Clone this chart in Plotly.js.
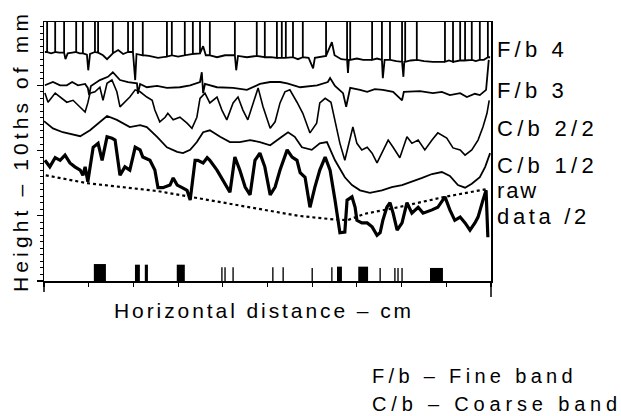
<!DOCTYPE html>
<html>
<head>
<meta charset="utf-8">
<script src="https://cdn.plot.ly/plotly-3.0.1.min.js"></script>
<style>html,body{margin:0;padding:0;background:#fff;}#chart{width:621px;height:416px;}</style>
</head>
<body>
<div id="chart"></div>
<script>
// Horizontal distance (cm, 0-100 across the record) and height (10ths of mm)
const fb4X = [0.2,0.7,0.7,0.7,1.6,2.5,2.5,2.5,3.4,4.5,4.5,4.5,4.8,5.3,6.3,7.2,7.2,7.2,8.0,8.7,8.7,8.7,9.6,9.9,10.3,11.4,11.4,11.4,12.1,12.1,12.1,13.2,14.1,15.4,15.4,15.4,16.6,17.7,18.8,18.8,18.8,19.9,19.9,19.9,20.4,20.7,22.1,22.1,22.1,23.5,25.5,27.5,27.5,27.5,28.6,28.6,28.6,30.0,31.5,31.5,31.5,33.3,33.3,33.3,34.9,34.9,34.9,35.6,36.2,37.1,37.1,37.1,38.7,40.5,42.3,42.7,42.7,42.7,43.0,43.4,45.4,47.6,47.6,47.6,49.4,49.4,49.4,50.8,52.1,52.1,52.1,53.2,53.2,53.2,54.1,54.1,54.1,55.7,55.7,55.7,56.8,57.9,57.9,57.9,59.2,60.2,60.6,62.0,63.1,63.1,63.1,64.4,65.0,66.5,67.8,67.8,67.8,68.0,68.2,68.5,68.5,68.5,70.0,71.4,73.4,73.4,73.4,74.5,75.6,75.6,75.6,75.8,76.2,77.4,77.4,77.4,78.8,80.1,80.1,80.1,80.4,80.6,80.8,80.8,80.8,82.0,83.4,83.4,83.4,85.0,87.0,89.7,89.7,89.7,90.6,91.5,91.5,91.5,93.1,93.1,93.1,94.2,94.2,94.2,95.7,95.7,95.7,96.6,97.5,97.5,97.5,98.4,99.3,99.3,99.3,99.8];
const fb4Y = [35.1,35.1,39.7,35.1,34.9,35.1,39.7,35.1,35.0,35.0,39.7,35.0,34.0,34.9,35.0,35.1,39.7,35.1,34.9,34.9,39.7,34.9,34.7,32.3,34.8,35.1,39.7,35.1,35.0,39.7,35.0,34.6,34.0,34.9,39.7,34.9,35.4,34.8,35.1,39.7,35.1,35.1,39.7,35.1,30.8,34.8,34.6,39.7,34.6,34.5,34.2,34.4,39.7,34.4,34.6,39.7,34.6,34.4,34.6,39.7,34.6,34.8,39.7,34.8,34.9,39.7,34.9,36.0,34.6,34.6,39.7,34.6,34.3,34.6,34.6,34.6,39.7,34.6,32.3,34.5,34.3,34.5,39.7,34.5,34.3,39.7,34.3,34.3,34.2,39.7,34.2,34.2,39.7,34.2,34.2,39.7,34.2,34.3,39.7,34.3,34.0,34.3,39.7,34.3,34.2,32.6,34.2,34.4,34.5,39.7,34.5,36.6,34.6,34.0,33.9,39.7,33.9,31.9,33.9,33.9,39.7,33.9,34.1,33.9,33.9,39.7,33.9,34.1,33.9,39.7,33.9,31.1,33.9,33.9,39.7,33.9,33.7,33.6,39.7,33.6,31.3,33.6,33.6,39.7,33.6,33.8,33.9,39.7,33.9,33.7,33.6,33.6,39.7,33.6,33.8,33.6,39.7,33.6,33.8,39.7,33.8,33.8,39.7,33.8,33.9,39.7,33.9,33.7,33.9,39.7,33.9,33.9,34.3,39.7,34.3,34.3];

const fb3X = [0.2,1.3,2.0,3.6,5.1,6.3,7.6,9.2,9.8,10.1,10.5,12.5,14.3,15.4,17.0,18.8,20.8,21.0,21.5,23.0,25.3,27.5,30.4,32.7,34.9,35.3,35.6,36.0,38.7,42.3,45.4,48.3,50.6,52.8,54.4,57.3,61.1,63.5,64.0,65.1,66.9,67.6,68.5,70.7,72.3,74.0,75.8,78.1,80.1,80.5,81.9,84.1,87.0,89.0,90.8,93.1,94.6,96.4,97.5,98.9,99.5];
const fb3Y = [30.0,30.3,30.5,30.0,30.0,30.5,30.0,30.2,29.6,28.5,29.9,30.8,31.3,32.0,30.8,30.5,30.3,28.7,30.2,29.7,29.9,29.6,29.7,30.0,30.5,32.0,28.8,30.2,29.7,29.6,29.3,30.2,30.5,30.5,30.3,29.7,30.0,30.5,31.1,29.9,28.8,26.7,29.6,29.3,29.0,29.4,29.3,29.0,27.7,29.0,29.0,29.1,28.8,29.0,28.5,28.8,28.2,28.7,28.5,29.3,33.9];

const cb22X = [0.2,0.9,2.5,3.6,5.1,6.5,8.1,9.2,9.8,10.3,11.4,12.5,13.2,14.1,15.2,16.3,17.0,18.1,19.2,20.4,21.5,23.0,24.2,24.8,25.9,27.1,27.7,28.9,30.4,32.0,33.1,34.2,34.9,36.0,37.1,38.7,39.8,40.9,42.3,43.4,44.5,45.6,46.8,47.9,49.0,50.6,51.7,52.8,53.9,55.0,56.6,57.9,59.5,61.0,61.7,62.9,64.2,65.1,66.2,67.3,68.5,69.1,70.0,71.1,72.3,73.4,74.5,75.6,77.0,78.1,79.6,81.2,82.3,83.7,85.2,86.8,88.1,90.1,91.5,93.1,94.2,95.7,97.1,98.2,99.1,99.6];
const cb22Y = [28.8,27.4,28.8,28.2,27.4,27.7,26.7,25.9,27.3,28.8,29.0,29.7,27.7,30.3,30.8,29.0,26.7,27.4,28.2,29.3,29.0,28.2,27.7,26.2,24.4,25.1,25.7,24.7,25.1,24.2,23.4,25.1,28.0,28.8,27.3,28.2,26.2,24.7,27.3,28.2,26.2,24.7,27.3,29.6,26.7,23.4,24.4,27.3,29.0,29.3,27.4,25.7,22.7,24.2,27.3,28.0,27.4,24.7,21.1,18.5,22.1,23.6,21.1,20.1,20.5,19.6,18.1,19.6,21.6,20.5,18.9,22.1,21.1,21.6,20.1,21.6,22.7,21.9,20.4,20.1,19.3,20.1,21.6,23.6,25.7,27.7];

const cb12X = [0.0,2.0,4.2,6.5,8.1,10.3,12.5,14.1,16.3,19.2,21.5,23.0,25.3,27.5,29.8,31.1,32.7,34.2,35.6,37.1,39.4,41.6,43.8,46.1,48.3,50.6,53.2,54.6,56.1,57.7,59.9,61.7,63.3,65.1,67.3,68.9,70.7,72.9,75.6,77.8,80.1,82.3,84.6,86.8,89.0,90.8,92.6,94.2,95.7,97.5,98.7,99.8];
const cb12Y = [24.5,23.4,22.8,22.4,22.2,23.1,24.4,25.3,24.7,23.6,23.9,23.6,22.1,20.5,19.8,19.6,20.1,21.3,22.8,23.1,22.1,21.3,21.3,21.6,21.3,20.8,22.1,22.8,22.1,20.5,20.1,21.1,21.3,18.5,15.9,14.7,13.9,13.5,13.9,14.4,14.7,15.2,15.8,16.4,16.7,16.1,14.7,14.3,14.9,15.9,17.5,19.6];

const rawX = [0.2,1.3,2.5,3.6,4.7,5.8,6.9,8.1,8.7,9.2,9.8,11.0,12.1,13.0,14.1,15.2,15.9,17.0,18.1,19.2,20.4,21.5,22.1,23.7,24.8,25.5,26.6,28.2,28.9,29.8,30.9,32.0,32.7,33.8,34.4,35.6,36.5,37.1,38.7,40.0,41.6,42.7,43.8,45.0,46.1,47.2,48.3,49.4,50.6,51.7,52.8,54.4,55.5,56.6,57.3,58.4,59.5,60.6,61.7,62.9,64.0,65.1,66.2,67.3,67.8,68.9,69.6,70.0,71.1,72.3,73.4,74.5,75.2,75.8,76.7,77.4,78.1,79.0,80.1,81.2,82.3,83.7,84.8,86.8,88.1,89.7,90.8,91.9,93.1,94.2,95.3,96.4,97.1,98.2,98.9,99.3];
const rawY = [18.5,17.5,18.9,18.5,19.3,18.1,17.5,17.0,16.2,17.5,15.2,20.5,21.1,18.5,22.1,21.9,21.6,16.2,17.5,17.0,20.5,20.1,19.0,18.5,17.0,14.3,14.3,14.7,15.8,14.7,14.3,13.9,12.4,18.5,18.5,18.1,18.9,18.5,17.0,15.5,13.6,19.0,17.0,14.4,13.2,18.5,19.6,17.5,13.2,14.4,17.0,20.1,19.0,18.5,16.6,15.9,11.3,14.4,17.0,19.0,17.0,12.4,7.4,7.5,12.4,12.9,11.3,9.3,8.9,8.9,8.3,7.0,7.4,9.3,11.3,12.0,10.4,7.8,8.9,12.0,10.4,11.3,10.4,10.9,11.3,12.9,10.9,9.3,9.8,8.9,7.8,8.9,9.8,12.4,13.9,6.7];

const trendX = [0.4,9.6,25.3,32.7,46.1,56.8,63.9,67.8,71.8,79.2,89.7,99.1];
const trendY = [16.2,15.0,13.8,12.9,11.2,10.0,9.5,9.3,10.3,11.3,12.9,14.1];

// event markers along the base line
const markX = [12.5,20.9,22.9,30.6,39.8,40.5,42.3,51.2,53.5,60.0,64.4,66.1,71.4,75.2,78.5,79.2,80.1,87.8];
const markW = [2.7,1.1,0.7,1.8,0.3,0.3,0.3,0.3,0.3,0.3,0.3,1.1,2.2,0.3,0.3,0.3,0.3,2.9];
const markH = [2.6,2.5,2.5,2.5,2.1,2.1,2.1,2.1,2.1,2.0,2.1,2.2,2.2,2.0,2.0,2.0,2.0,2.0];

const seriesLabels = ['F/b 4','F/b 3','C/b 2/2','C/b 1/2','raw','data /2'];
const noteLabels = ['F/b – Fine band','C/b – Coarse band'];
const xTitle = 'Horizontal distance – cm';
const yTitle = 'Height – 10ths of mm';

const FONT = 'Liberation Sans, Arial, Helvetica, sans-serif';
const ln = (w, dash) => ({color:'#000', width:w, dash: dash || 'solid'});

const traces = [
  {x: fb4X, y: fb4Y, mode:'lines', line: ln(1.8), name:'F/b 4'},
  {x: fb3X, y: fb3Y, mode:'lines', line: ln(1.8), name:'F/b 3'},
  {x: cb22X, y: cb22Y, mode:'lines', line: ln(1.6), name:'C/b 2/2'},
  {x: cb12X, y: cb12Y, mode:'lines', line: ln(1.8), name:'C/b 1/2'},
  {x: rawX, y: rawY, mode:'lines', line: ln(3.2), name:'raw data /2'},
  {x: trendX, y: trendY, mode:'lines', line: ln(2.2,'dot'), name:'trend'},
  {type:'bar', x: markX, y: markH, width: markW, marker:{color:'#000', line:{width:0}}, name:'marks'}
];

// text layout: [left x, centre y, target width, font size]
const labelBox = [[497,49,71,22],[497,90,71,22],[497,128,101,22],[497,165,101,22],[497,190,41,22],[497,216,93,22]];
const noteBox = [[372,376,205,20],[372,404,250,20]];

const annotations = [];
seriesLabels.forEach((t,i) => annotations.push({
  text: t, xref:'paper', yref:'paper', x:1, y:(281-labelBox[i][1])/259, xanchor:'left', yanchor:'middle',
  xshift:6, showarrow:false, font:{family:FONT, size:labelBox[i][3], color:'#000'}
}));
noteLabels.forEach((t,i) => annotations.push({
  text: t, xref:'paper', yref:'paper', x:(noteBox[i][0]-44)/447, y:-(noteBox[i][1]-281)/259,
  xanchor:'left', yanchor:'middle', showarrow:false, font:{family:FONT, size:noteBox[i][3], color:'#000'}
}));

const layout = {
  width:621, height:416,
  margin:{l:44, r:130, t:22, b:135},
  paper_bgcolor:'#fff', plot_bgcolor:'#fff',
  showlegend:false,
  font:{family:FONT, color:'#000'},
  xaxis:{range:[0,100], showgrid:false, zeroline:false, showline:true, mirror:true, linecolor:'#000', linewidth:1.5,
    ticks:'outside', ticklen:4, tickwidth:1.2, tickcolor:'#000', dtick:10, tick0:0, showticklabels:false,
    title:{text:xTitle, font:{family:FONT, size:21, color:'#000'}, standoff:18}},
  yaxis:{range:[0,39.7], showgrid:false, zeroline:false, showline:true, mirror:true, linecolor:'#000', linewidth:1.5,
    ticks:'outside', ticklen:6, tickwidth:1.2, tickcolor:'#000', dtick:10, tick0:0, showticklabels:false,
    minor:{ticks:'outside', ticklen:3, tickwidth:1, tickcolor:'#000', dtick:1},
    title:{text:yTitle, font:{family:FONT, size:21, color:'#000'}, standoff:6}},
  shapes:[
    {type:'line', xref:'paper', yref:'paper', x0:1, x1:1, y0:0, y1:-0.062, line:{color:'#000', width:1.5}},
    {type:'line', xref:'paper', yref:'paper', x0:0, x1:0, y0:0, y1:-0.042, line:{color:'#000', width:1.5}}
  ],
  annotations: annotations
};

// widen the lettering like the plotter font of the original, then put each text on its spot
function track(el, targetW) {
  const n = el.textContent.length;
  el.style.letterSpacing = '0px';
  const w0 = el.getComputedTextLength();
  el.style.letterSpacing = Math.max(0, (targetW - w0) / n) + 'px';
}
function moveTo(el, opt) {
  const r = el.getBoundingClientRect();
  let dx = 0, dy = 0;
  if (opt.left !== undefined) dx = opt.left - r.left;
  if (opt.cx !== undefined) dx = opt.cx - (r.left + r.right) / 2;
  if (opt.cy !== undefined) dy = opt.cy - (r.top + r.bottom) / 2;
  el.setAttribute('transform', 'translate(' + dx + ',' + dy + ') ' + (el.getAttribute('transform') || ''));
}

Plotly.newPlot('chart', traces, layout, {staticPlot:true, displayModeBar:false}).then(gd => {
  const xt = gd.querySelector('.g-xtitle text');
  if (xt) { track(xt, 300); moveTo(xt, {cx:264, cy:311}); }
  const yt = gd.querySelector('.g-ytitle text');
  if (yt) { track(yt, 282); moveTo(yt, {cx:20, cy:151}); }
  const anns = Array.from(gd.querySelectorAll('text.annotation-text'));
  anns.forEach(el => {
    const t = el.textContent;
    let i = seriesLabels.indexOf(t);
    if (i >= 0) { track(el, labelBox[i][2]); moveTo(el, {left:labelBox[i][0], cy:labelBox[i][1]}); return; }
    i = noteLabels.indexOf(t);
    if (i >= 0) { track(el, noteBox[i][2]); moveTo(el, {left:noteBox[i][0], cy:noteBox[i][1]}); }
  });
});
</script>
</body>
</html>
